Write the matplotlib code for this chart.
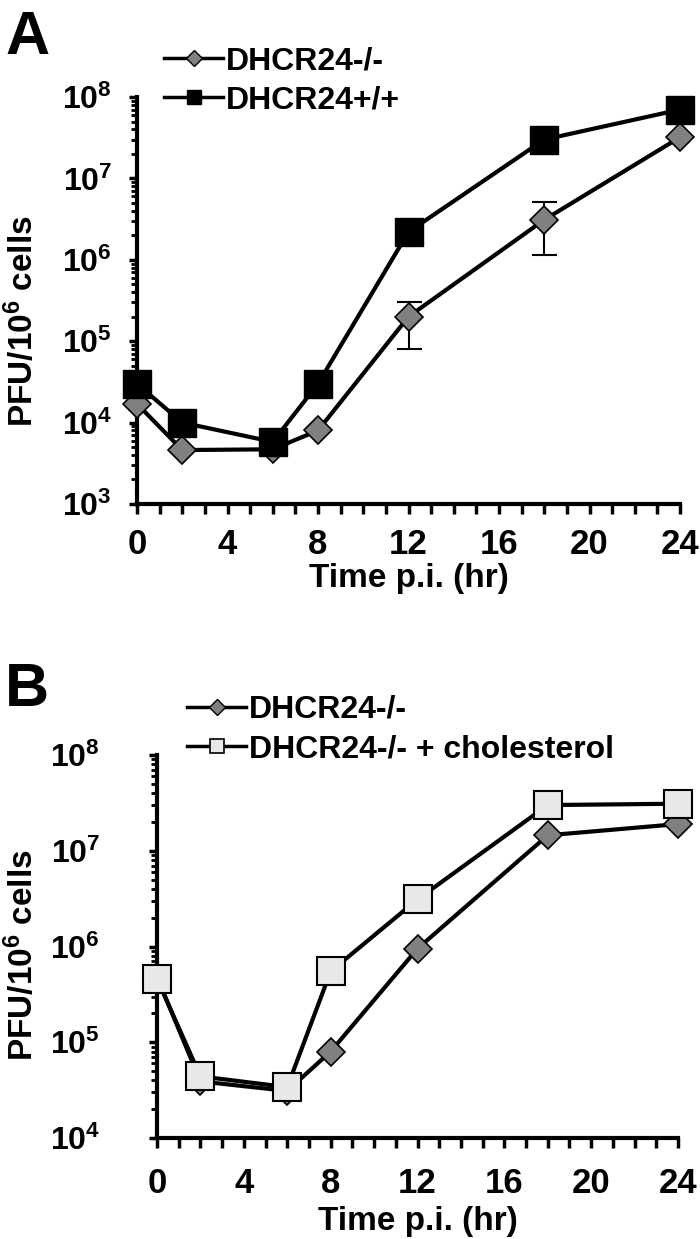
import numpy as np
import matplotlib
matplotlib.use("Agg")
import matplotlib.pyplot as plt
from matplotlib.lines import Line2D
from matplotlib.ticker import MultipleLocator, FixedLocator, LogLocator

plt.rcParams['font.family'] = ['Liberation Sans', 'DejaVu Sans']
plt.rcParams['font.weight'] = 'bold'
plt.rcParams['axes.labelweight'] = 'bold'
plt.rcParams['mathtext.fontset'] = 'custom'
plt.rcParams['mathtext.rm'] = 'Liberation Sans:bold'
plt.rcParams['mathtext.bf'] = 'Liberation Sans:bold'
plt.rcParams['mathtext.it'] = 'Liberation Sans:bold'

# Panel A: time course, DHCR24-/- vs DHCR24+/+
time_a = [0, 2, 6, 8, 12, 18, 24]
ko_a = [1.7e4, 4.6e3, 4.7e3, 8.0e3, 2.0e5, 3.1e6, 3.2e7]
ko_a_err_lo = [0, 0, 0, 0, 1.2e5, 1.95e6, 0]
ko_a_err_hi = [0, 0, 0, 0, 1.0e5, 2.0e6, 0]
wt_a = [3.0e4, 1.0e4, 5.8e3, 3.0e4, 2.2e6, 3.0e7, 7.0e7]

# Panel B: DHCR24-/- with and without cholesterol
time_b = [0, 2, 6, 8, 12, 18, 24]
ko_b = [4.8e5, 3.9e4, 3.1e4, 8.0e4, 9.5e5, 1.45e7, 1.9e7]
chol_b = [4.6e5, 4.4e4, 3.4e4, 5.5e5, 3.1e6, 3.0e7, 3.1e7]
chol_b_err = [0, 0, 0, 0, 0, 8.0e6, 0]

GRAY = '#808080'
LIGHT = '#e8e8e8'

fig = plt.figure(figsize=(7.0, 12.39), dpi=100)


def style_axes(ax, ylo, yhi, ytick_pad, xtick_pad):
    ax.set_yscale('log')
    ax.set_xlim(0, 24)
    ax.set_ylim(ylo, yhi)
    for s in ['top', 'right']:
        ax.spines[s].set_visible(False)
    for s in ['left', 'bottom']:
        ax.spines[s].set_linewidth(3.0)
    ax.xaxis.set_minor_locator(MultipleLocator(1))
    ax.tick_params(axis='x', which='both', direction='out', length=7, width=2.5, pad=xtick_pad)
    ax.yaxis.set_minor_locator(LogLocator(base=10, subs=np.arange(2, 10), numticks=20))
    ax.tick_params(axis='y', which='major', direction='out', length=6, width=2.5, pad=ytick_pad)
    ax.tick_params(axis='y', which='minor', direction='out', length=4, width=2.0)
    exps = range(int(np.log10(ylo)), int(np.log10(yhi)) + 1)
    ax.yaxis.set_major_locator(FixedLocator([10.0 ** e for e in exps]))
    ax.set_yticklabels([r'$10^{%d}$' % e for e in exps], fontsize=23)
    ax.set_xticks(range(0, 25, 4))
    ax.set_xticklabels([str(t) for t in range(0, 25, 4)], fontsize=25, fontweight='bold')
    ax.set_xlabel('Time p.i. (hr)', fontsize=24, fontweight='bold', labelpad=2)
    ax.set_ylabel(r'PFU/10$^{6}$ cells', fontsize=24, fontweight='bold')


# ---- Panel A ----
axA = fig.add_axes([137 / 700, 1 - 504 / 1239, 543 / 700, 407 / 1239])
style_axes(axA, 1e3, 1e8, 12, 10)
axA.yaxis.set_label_coords((40 - 137) / 543, 0.45)
axA.errorbar(time_a, ko_a, yerr=[ko_a_err_lo, ko_a_err_hi], fmt='none',
             ecolor='black', elinewidth=1.5, capsize=9, capthick=1.5, zorder=2)
axA.plot(time_a, ko_a, '-', color='black', lw=3.0, marker='D', ms=14,
         mfc=GRAY, mec='black', mew=1.2, clip_on=False, zorder=3)
axA.plot(time_a, wt_a, '-', color='black', lw=3.0, marker='s', ms=20,
         mfc='black', mec='black', clip_on=False, zorder=4)

handles_a = [
    Line2D([], [], color='black', lw=2.5, marker='D', ms=8, mfc=GRAY, mec='black', mew=1),
    Line2D([], [], color='black', lw=2.5, marker='s', ms=10, mfc='black', mec='black'),
]
fig.legend(handles_a, ['DHCR24-/-', 'DHCR24+/+'], loc='upper left',
           bbox_to_anchor=(164 / 700, 1 - 46 / 1239), frameon=False,
           prop={'size': 23, 'weight': 'bold'}, handlelength=1.85,
           handletextpad=0.1, labelspacing=0.3, borderpad=0, borderaxespad=0)

fig.text(5 / 700, 1 - 54 / 1239, 'A', fontsize=44, fontweight='bold', ha='left', va='baseline')

# ---- Panel B ----
axB = fig.add_axes([157 / 700, 1 - 1138 / 1239, 521 / 700, 383 / 1239])
style_axes(axB, 1e4, 1e8, 35, 14)
axB.yaxis.set_label_coords((40 - 157) / 521, 0.477)
axB.xaxis.labelpad = 4
axB.errorbar(time_b, chol_b, yerr=[chol_b_err, [0] * len(chol_b_err)], fmt='none',
             ecolor='black', elinewidth=1.5, capsize=9, capthick=1.5, zorder=2)
axB.plot(time_b, ko_b, '-', color='black', lw=3.0, marker='D', ms=14,
         mfc=GRAY, mec='black', mew=1.2, clip_on=False, zorder=3)
axB.plot(time_b, chol_b, '-', color='black', lw=3.0, marker='s', ms=20,
         mfc=LIGHT, mec='black', mew=1.5, clip_on=False, zorder=4)

handles_b = [
    Line2D([], [], color='black', lw=2.5, marker='D', ms=8, mfc=GRAY, mec='black', mew=1),
    Line2D([], [], color='black', lw=2.5, marker='s', ms=10, mfc=LIGHT, mec='black', mew=1.2),
]
fig.legend(handles_b, ['DHCR24-/-', 'DHCR24-/- + cholesterol'], loc='upper left',
           bbox_to_anchor=(187 / 700, 1 - 695 / 1239), frameon=False,
           prop={'size': 23, 'weight': 'bold'}, handlelength=1.85,
           handletextpad=0.1, labelspacing=0.3, borderpad=0, borderaxespad=0)

fig.text(5 / 700, 1 - 706 / 1239, 'B', fontsize=44, fontweight='bold', ha='left', va='baseline')

fig.savefig('out.png', dpi=100)
